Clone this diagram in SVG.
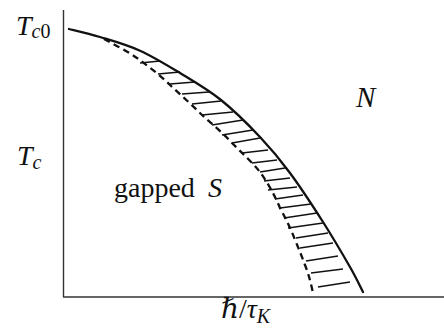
<svg xmlns="http://www.w3.org/2000/svg" width="444" height="334" viewBox="0 0 444 334">
<style>
.axis{stroke:#333;stroke-width:1.4;fill:none}
.solid{stroke:#111;stroke-width:2.3;fill:none;stroke-linecap:round}
.dash{stroke:#111;stroke-width:2.3;fill:none;stroke-dasharray:6.5 4.5}
.hatch line{stroke:#111;stroke-width:1.3}
.lbl{font-family:'Liberation Serif','DejaVu Serif',serif;fill:#111}
.it{font-style:italic}
</style>
<rect width="444" height="334" fill="#fff"/>
<g id="axes">
<line class="axis" x1="63.5" y1="10" x2="63.5" y2="297"/>
<line class="axis" x1="63" y1="297" x2="444" y2="297"/>
</g>
<g id="connectors">
<path id="phase-boundary" class="solid" d="M69,29 C74.2,30.3 88.2,33.4 100,37 C111.8,40.6 126.7,44.7 140,50.7 C153.3,56.7 166.5,64.8 180,73 C193.5,81.2 207.7,89.3 221,100 C234.3,110.7 248.5,124.8 260,137 C271.5,149.2 279.5,158.8 290,173 C300.5,187.2 313,206.3 323,222 C333,237.7 343.3,255.3 350,267 C356.7,278.7 360.8,287.8 363,292"/>
<path id="gap-boundary" class="dash" d="M104,39 C115,45 127,51 137,58 C148,66 160,75 170,85 C181,95 192,105 202,115 C212,124 223,133 232,143 C242,153 252,162 260,172 C268,183 275,196 280,208 C286,219 291,229 295,240 C299,249 302,257 305,265 C309,275 311,284 313,293"/>
<g class="hatch" id="hatch">
<line x1="140" y1="63" x2="160" y2="61"/>
<line x1="158" y1="74" x2="180" y2="72"/>
<line x1="170" y1="84" x2="195" y2="82"/>
<line x1="182" y1="94" x2="209" y2="92"/>
<line x1="192" y1="104" x2="221" y2="101"/>
<line x1="202" y1="115" x2="233" y2="112"/>
<line x1="212" y1="125" x2="243" y2="120"/>
<line x1="222" y1="135" x2="253" y2="130"/>
<line x1="232" y1="143" x2="260" y2="138"/>
<line x1="242" y1="153" x2="268" y2="150"/>
<line x1="252" y1="163" x2="277" y2="160"/>
<line x1="260" y1="172" x2="285" y2="168"/>
<line x1="264" y1="181" x2="290" y2="178"/>
<line x1="268" y1="190" x2="297" y2="187"/>
<line x1="275" y1="199" x2="303" y2="195"/>
<line x1="280" y1="208" x2="311" y2="204"/>
<line x1="284" y1="218" x2="317" y2="213"/>
<line x1="288" y1="228" x2="323" y2="223"/>
<line x1="296" y1="238" x2="328" y2="233"/>
<line x1="300" y1="248" x2="333" y2="243"/>
<line x1="306" y1="261" x2="338" y2="256"/>
<line x1="311" y1="273" x2="343" y2="269"/>
<line x1="318" y1="287" x2="350" y2="282"/>
</g>
</g>
<g id="label-Tc0"><text class="lbl" x="16" y="35" font-size="28"><tspan class="it">T</tspan><tspan font-size="20" dy="3"><tspan class="it">c</tspan>0</tspan></text></g>
<g id="label-Tc"><text class="lbl" x="17" y="165" font-size="28"><tspan class="it">T</tspan><tspan class="it" font-size="20" dy="4">c</tspan></text></g>
<g id="label-S"><text class="lbl" x="114" y="197" font-size="28">gapped</text><text class="lbl it" x="208" y="197" font-size="28">S</text></g>
<g id="label-N"><text class="lbl it" x="356" y="107" font-size="29">N</text></g>
<g id="label-x"><text class="lbl" x="221" y="318" font-size="28"><tspan class="it">ℏ</tspan>/<tspan class="it">τ</tspan><tspan class="it" font-size="20" dy="5">K</tspan></text></g>
</svg>
